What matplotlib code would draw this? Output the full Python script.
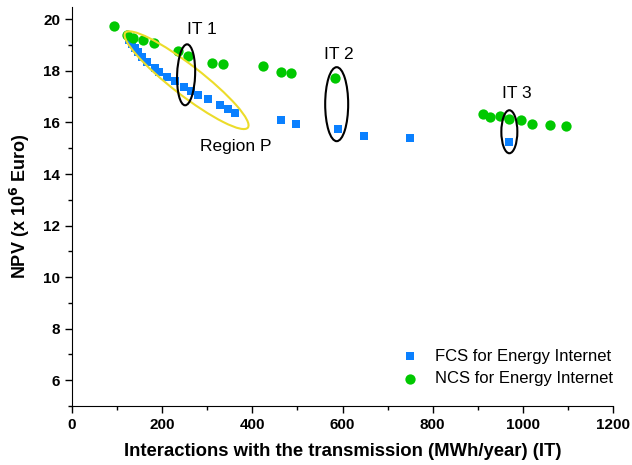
import matplotlib
matplotlib.use("Agg")
import matplotlib.pyplot as plt
from matplotlib.patches import Ellipse
from matplotlib.transforms import ScaledTranslation
from matplotlib.ticker import MultipleLocator

plt.rcParams['font.family'] = ['Liberation Sans', 'DejaVu Sans']

# FCS series (blue squares)
fcs_x = [126, 133, 140, 146, 155, 166, 184, 193, 211, 228, 248, 264, 279,
         302, 328, 346, 361, 464, 497, 590, 648, 750, 969]
fcs_y = [19.21, 19.05, 18.90, 18.74, 18.55, 18.35, 18.12, 17.96, 17.77, 17.61,
         17.38, 17.22, 17.07, 16.92, 16.69, 16.53, 16.36, 16.09, 15.95, 15.76,
         15.49, 15.41, 15.26]

# NCS series (green circles)
ncs_x = [93, 122, 136, 158, 181, 234, 257, 311, 334, 423, 463, 485, 583,
         911, 928, 949, 969, 996, 1020, 1060, 1096]
ncs_y = [19.75, 19.40, 19.26, 19.21, 19.08, 18.78, 18.59, 18.30, 18.26, 18.20,
         17.97, 17.93, 17.72, 16.31, 16.22, 16.25, 16.13, 16.08, 15.96, 15.90,
         15.86]

# annotations: (label, x, y)
labels = [("IT 1", 288, 19.59), ("IT 2", 591, 18.62), ("IT 3", 986, 17.14),
          ("Region P", 363, 15.07)]

# ellipses: centre in data, size in inches, angle, colour
ellipses = [
    (254, 17.64, 1.55, 0.30, -37.7, '#ecdc2a'),
    (253, 17.85, 0.18, 0.61, -2, 'black'),
    (587, 16.71, 0.23, 0.74, 0, 'black'),
    (970, 15.64, 0.16, 0.43, 0, 'black'),
]

fig = plt.figure(figsize=(6.32, 4.65), dpi=100)
ax = fig.add_axes([0.114, 0.127, 0.856, 0.859])

ax.scatter(fcs_x, fcs_y, marker='s', s=40, color='#0a80ff', linewidths=0,
           label='FCS for Energy Internet', zorder=3)
ax.scatter(ncs_x, ncs_y, marker='o', s=55, color='#00c800', linewidths=0,
           label='NCS for Energy Internet', zorder=3)

for cx, cy, w, h, ang, col in ellipses:
    tr = fig.dpi_scale_trans + ScaledTranslation(cx, cy, ax.transData)
    ax.add_patch(Ellipse((0, 0), w, h, angle=ang, transform=tr, fill=False,
                         edgecolor=col, linewidth=1.5, zorder=4))

for txt, x, y in labels:
    ax.text(x, y, txt, ha='center', va='center', fontsize=12.5)

ax.set_xlim(0, 1200)
ax.set_ylim(5, 20.5)
ax.xaxis.set_major_locator(MultipleLocator(200))
ax.xaxis.set_minor_locator(MultipleLocator(100))
ax.yaxis.set_minor_locator(MultipleLocator(1))
ax.set_yticks([6, 8, 10, 12, 14, 16, 18, 20])
ax.spines['top'].set_visible(False)
ax.spines['right'].set_visible(False)
ax.tick_params(which='major', direction='out', length=5, width=1,
               labelsize=11)
ax.tick_params(which='minor', direction='out', length=3, width=1)
for lab in ax.get_xticklabels() + ax.get_yticklabels():
    lab.set_fontweight('bold')

ax.set_xlabel('Interactions with the transmission (MWh/year) (IT)',
              fontsize=13.3, fontweight='bold', labelpad=8)
ax.set_ylabel('NPV (x 10$^\\mathbf{6}$ Euro)', fontsize=13,
              fontweight='bold', labelpad=8)

ax.legend(loc='upper left', bbox_to_anchor=(0.593, 0.143), frameon=False,
          fontsize=12, handletextpad=0.5, labelspacing=0.45,
          borderaxespad=0, borderpad=0)

fig.savefig('out.png', dpi=100)
